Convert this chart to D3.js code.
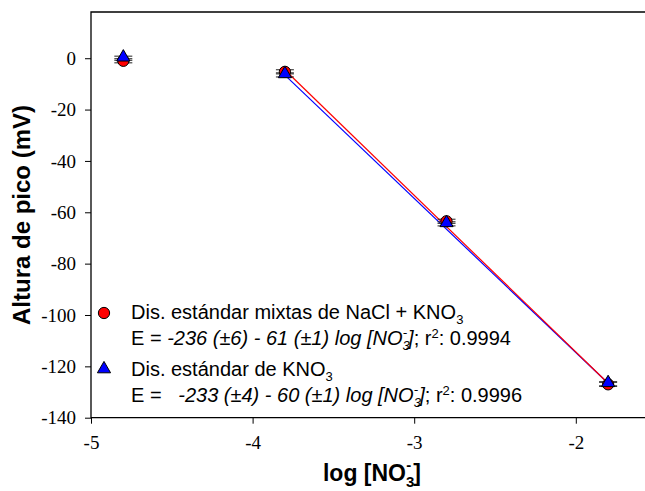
<!DOCTYPE html>
<html>
<head>
<meta charset="utf-8">
<script src="https://cdn.jsdelivr.net/npm/d3@7"></script>
<style>
  body { margin: 0; background: #fff; }
  svg .tick text { font-family: "Liberation Serif", "Times New Roman", serif !important; font-size: 19px !important; }
</style>
</head>
<body>
<div id="chart"></div>
<script>
// values
const logNO3 = [-4.8, -3.8, -2.8, -1.8];
const mixtas = [-1.0, -5.3, -63.5, -127.0];    // NaCl + KNO3
const kno3 = [0.0, -6.5, -64.5, -126.8];       // KNO3 only
const errMixtas = [0.8, 0.8, 0.8, 0.8];
const errKno3 = [0.8, 0.8, 0.8, 0.8];
// fitted lines (end points)
const fitX = [-3.8, -1.8];
const fitMixtas = [-4.6, -126.6];
const fitKno3 = [-6.6, -126.6];
const xTicks = [-5, -4, -3, -2];
const yTicks = [0, -20, -40, -60, -80, -100, -120, -140];

const width = 645, height = 491;
const margin = {top: 12, left: 91, bottom: 73};
const sans = "Liberation Sans, Arial, sans-serif";

let svg = d3.select("#chart").append("svg")
    .attr("width", width)
    .attr("height", height);

let x = d3.scaleLinear().domain([-5, -1.5]).range([margin.left, margin.left + 3.5 * 161.6]);
let y = d3.scaleLinear().domain([-140, 18]).range([height - margin.bottom - 0.3, margin.top]);

// axes
let xAxis = d3.axisBottom(x).tickValues(xTicks).tickSize(6).tickPadding(12).tickFormat(d => d);
let yAxis = d3.axisLeft(y).tickValues(yTicks).tickSize(6).tickPadding(9).tickFormat(d => d);

let gx = svg.append("g")
    .attr("transform", `translate(0, ${y(-140)})`)
    .call(xAxis);
let gy = svg.append("g")
    .attr("transform", `translate(${margin.left}, 0)`)
    .call(yAxis);
[gx, gy].forEach(g => {
    g.attr("font-family", null).attr("font-size", null);
    g.select(".domain").remove();
    g.selectAll(".tick line").attr("stroke", "#000").attr("stroke-width", 1);
    g.selectAll(".tick text").attr("fill", "#000");
});

// frame: left, bottom, top (right side is cut off)
svg.append("path")
    .attr("d", `M${width},${y(18)}H${x(-5)}V${y(-140)}H${width}`)
    .attr("fill", "none")
    .attr("stroke", "#000")
    .attr("stroke-width", 1.3);

// fit lines
let line = d3.line().x(d => x(d[0])).y(d => y(d[1]));
svg.append("path")
    .datum(fitX.map((v, i) => [v, fitKno3[i]]))
    .attr("d", line).attr("stroke", "#0000ff").attr("stroke-width", 1.2).attr("fill", "none");
svg.append("path")
    .datum(fitX.map((v, i) => [v, fitMixtas[i]]))
    .attr("d", line).attr("stroke", "#ff0000").attr("stroke-width", 1.2).attr("fill", "none");

// error bars (caps only visible, bars hidden by markers)
function errorBars(vals, errs) {
    let g = svg.append("g").attr("stroke", "#222").attr("stroke-width", 1);
    logNO3.forEach((v, i) => {
        let cx = x(v);
        [vals[i] + errs[i], vals[i] - errs[i]].forEach(e => {
            g.append("line").attr("x1", cx - 9).attr("x2", cx + 9)
                .attr("y1", y(e)).attr("y2", y(e));
        });
        g.append("line").attr("x1", cx).attr("x2", cx)
            .attr("y1", y(vals[i] + errs[i])).attr("y2", y(vals[i] - errs[i]));
    });
}
errorBars(mixtas, errMixtas);
errorBars(kno3, errKno3);

const circle = d3.symbol().type(d3.symbolCircle).size(100);
const tri = d3.symbol().type(d3.symbolTriangle).size(75);

svg.selectAll(".pt-mix")
    .data(logNO3.map((v, i) => [v, mixtas[i]]))
    .enter().append("path")
    .attr("class", "pt-mix")
    .attr("d", circle)
    .attr("transform", d => `translate(${x(d[0])}, ${y(d[1])})`)
    .attr("fill", "#ff0000").attr("stroke", "#000").attr("stroke-width", 1);

svg.selectAll(".pt-kno3")
    .data(logNO3.map((v, i) => [v, kno3[i]]))
    .enter().append("path")
    .attr("class", "pt-kno3")
    .attr("d", tri)
    .attr("transform", d => `translate(${x(d[0])}, ${y(d[1]) - 1})`)
    .attr("fill", "#0000ff").attr("stroke", "#000").attr("stroke-width", 1);

// axis titles
svg.append("text")
    .attr("transform", `translate(30, 215) rotate(-90)`)
    .attr("text-anchor", "middle")
    .style("font-family", sans).style("font-weight", "bold").style("font-size", "24px")
    .text("Altura de pico (mV)");

let xt = svg.append("text")
    .attr("x", 372).attr("y", 481)
    .attr("text-anchor", "middle")
    .style("font-family", sans).style("font-weight", "bold").style("font-size", "23px");
xt.append("tspan").text("log [NO");
xt.append("tspan").attr("dy", 6).style("font-size", "15px").text("3");
xt.append("tspan").attr("dy", -17).attr("dx", -8).style("font-size", "15px").text("-");
xt.append("tspan").attr("dy", 11).attr("dx", 2).text("]");

// legend
let leg = svg.append("g");
leg.append("path").attr("d", circle)
    .attr("transform", "translate(104, 313)")
    .attr("fill", "#ff0000").attr("stroke", "#000");
leg.append("path").attr("d", tri)
    .attr("transform", "translate(104, 369)")
    .attr("fill", "#0000ff").attr("stroke", "#000");

function kText(yPos, parts) {
    let t = leg.append("text").attr("x", 131).attr("y", yPos)
        .style("font-family", sans).style("font-size", "20px")
        .attr("xml:space", "preserve");
    parts.forEach(p => {
        let s = t.append("tspan").text(p.t);
        if (p.it) s.style("font-style", "italic");
        if (p.dy) s.attr("dy", p.dy);
        if (p.dx) s.attr("dx", p.dx);
        if (p.sz) s.style("font-size", p.sz + "px");
    });
}
kText(319, [{t: "Dis. estándar mixtas de NaCl + KNO"}, {t: "3", dy: 5, sz: 13}]);
kText(345, [{t: "E = "}, {t: "-236 (±6) - 61 (±1) log [NO", it: true},
    {t: "3", dy: 5, sz: 13, it: true}, {t: "-", dy: -13, dx: -7, sz: 13, it: true},
    {t: "]", dy: 8, dx: 1, it: true}, {t: "; r"}, {t: "2", dy: -7, sz: 13}, {t: ": 0.9994", dy: 7}]);
kText(376, [{t: "Dis. estándar de KNO"}, {t: "3", dy: 5, sz: 13}]);
kText(402, [{t: "E =   "}, {t: "-233 (±4) - 60 (±1) log [NO", it: true},
    {t: "3", dy: 5, sz: 13, it: true}, {t: "-", dy: -13, dx: -7, sz: 13, it: true},
    {t: "]", dy: 8, dx: 1, it: true}, {t: "; r"}, {t: "2", dy: -7, sz: 13}, {t: ": 0.9996", dy: 7}]);
</script>
</body>
</html>
